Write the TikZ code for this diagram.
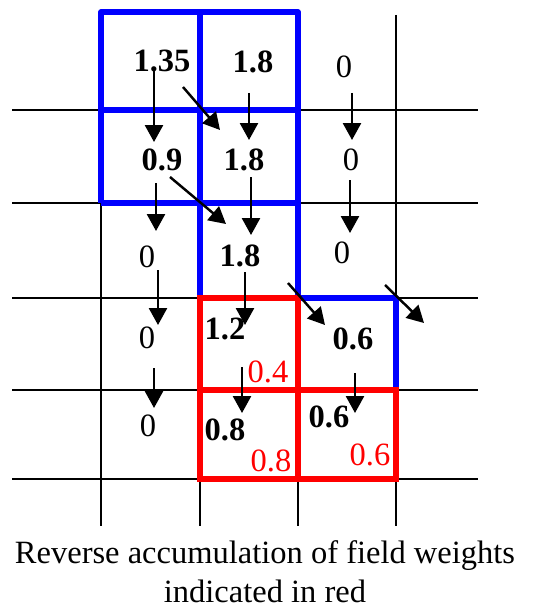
\documentclass[tikz,border=0pt]{standalone}
\usepackage{fontspec}
\setmainfont{Liberation Serif}
\usetikzlibrary{arrows.meta}
\definecolor{fieldblue}{RGB}{0,0,255}
\definecolor{fieldred}{RGB}{255,0,0}
\tikzset{
  grid line/.style = {line width = .85pt},
  blue edge/.style = {fieldblue, line width = 2.9pt, line join = round},
  red edge/.style = {fieldred, line width = 2.9pt},
  flow/.style = {line width = 1.4pt, -{Triangle[length = 9.6pt, width = 10.2pt]}},
  weight/.style = {inner sep = 0pt, font = \fontsize{18.5}{22}\selectfont\bfseries},
  zero/.style = {inner sep = 0pt, font = \fontsize{18.5}{22}\selectfont},
  back/.style = {inner sep = 0pt, text = fieldred, font = \fontsize{18.5}{22}\selectfont}
}
\begin{document}
\begin{tikzpicture}[x = .02cm, y = -.02cm]
      \useasboundingbox (0,0) rectangle (532,608);
      % grid
      \foreach \y in {110,203,298,390,479}
        \draw [grid line] (12,\y) -- (478,\y);
      \foreach \x in {101,200,298,396}
        \draw [grid line] (\x,15) -- (\x,526);
      % field of the first pass
      \draw [blue edge] (101,203) -- (101,12) -- (298,12) -- (298,298)
        -- (396,298) -- (396,390);
      \draw [blue edge] (101,110) -- (298,110);
      \draw [blue edge] (101,203) -- (298,203);
      \draw [blue edge] (200,12) -- (200,298);
      % reverse pass
      \draw [red edge] (200,298) rectangle (298,479);
      \draw [red edge] (298,390) rectangle (396,479);
      \draw [red edge] (200,390) -- (298,390);
      % values
      \node [weight] (w11) at (162,61) {1.35};
      \node [weight] (w12) at (253,62) {1.8};
      \node [zero]   (w13) at (344,67) {0};
      \node [weight] (w21) at (162,160) {0.9};
      \node [weight] (w22) at (244,160) {1.8};
      \node [zero]   (w23) at (351,160) {0};
      \node [zero]   (w31) at (147,257) {0};
      \node [weight] (w32) at (240,256) {1.8};
      \node [zero]   (w33) at (342,253) {0};
      \node [zero]   (w41) at (147,338) {0};
      \node [weight] (w42) at (225,329) {1.2};
      \node [back]   (r42) at (268,372) {0.4};
      \node [weight] (w43) at (353,339) {0.6};
      \node [zero]   (w51) at (148,426) {0};
      \node [weight] (w52) at (225,430) {0.8};
      \node [back]   (r52) at (271,461) {0.8};
      \node [weight] (w53) at (329,417) {0.6};
      \node [back]   (r53) at (370,455) {0.6};
      % arrow ends
      \coordinate (s1) at (154,70);   \coordinate (e1) at (154,142);
      \coordinate (s2) at (183,87);   \coordinate (e2) at (220,130);
      \coordinate (s3) at (249,93);   \coordinate (e3) at (249,140);
      \coordinate (s4) at (352,93);   \coordinate (e4) at (352,140);
      \coordinate (s5) at (156,183);  \coordinate (e5) at (156,231);
      \coordinate (s6) at (170,177);  \coordinate (e6) at (226,224);
      \coordinate (s7) at (251,177);  \coordinate (e7) at (251,235);
      \coordinate (s8) at (350,180);  \coordinate (e8) at (350,233);
      \coordinate (s9) at (158,270);  \coordinate (e9) at (158,325);
      \coordinate (s10) at (245,272); \coordinate (e10) at (245,325);
      \coordinate (s11) at (288,283); \coordinate (e11) at (325,325);
      \coordinate (s12) at (385,285); \coordinate (e12) at (424,323);
      \coordinate (s13) at (154,368); \coordinate (e13) at (154,408);
      \coordinate (s14) at (242,367); \coordinate (e14) at (242,413);
      \coordinate (s15) at (355,373); \coordinate (e15) at (355,413);
      \foreach \i in {1,...,15}
        \draw [flow] (s\i) -- (e\i);
      % caption
      \node [inner sep = 0pt, align = center, anchor = base,
             font = \fontsize{18.5}{22.2}\selectfont]
        (caption) at (265,602)
        {Reverse accumulation of field weights\\indicated in red};
    \end{tikzpicture}
\end{document}
